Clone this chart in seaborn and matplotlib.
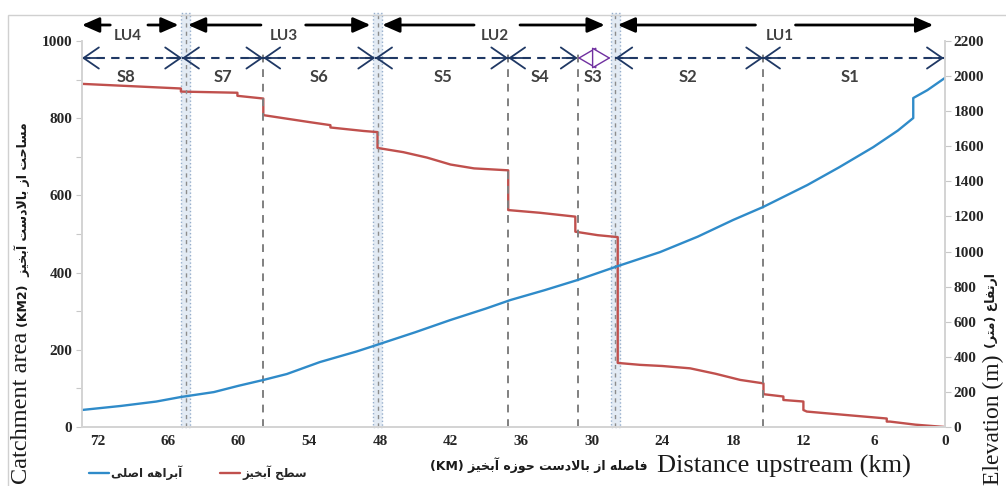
import matplotlib
matplotlib.use("Agg")
import matplotlib.pyplot as plt
import matplotlib.transforms as mtrans
from matplotlib.patches import Rectangle
import seaborn as sns

# main channel elevation (m) against distance upstream (km)
blue_km = [73.3, 70, 67, 64.9, 62.1, 60, 57.9, 55.9, 53.1, 50, 48.8, 45, 42, 39, 36.9,
           34, 31.2, 27.8, 24.2, 21, 18, 15.45, 11.7, 9, 6.1, 4, 2.7, 2.7, 1.5, 0]
blue_elev = [97, 120, 145, 171, 199, 235, 268, 302, 370, 430, 456, 540, 610, 675, 724,
             780, 838, 917, 997, 1085, 1180, 1254, 1379, 1480, 1595, 1690, 1761, 1875, 1920, 1990]

# watershed area (km2) against distance upstream (km)
red_km = [0, 2.5, 4.67, 4.95, 4.95, 8, 11.74, 12.03, 12.03, 13.73, 13.73, 15.42, 15.42, 17.4,
          19.5, 21.65, 24, 25.9, 27.8, 27.8, 29.5, 31.4, 31.4, 34.4, 37.1, 37.1, 40, 42, 44,
          46, 48.2, 48.2, 49.4, 52.2, 52.2, 54, 57.9, 57.9, 60.1, 60.1, 64.9, 64.9, 73.3]
red_area = [0, 6, 14, 14, 22, 30, 40, 44, 66, 70, 79, 85, 113, 122,
            138, 152, 158, 161, 166, 492, 497, 506, 545, 555, 562, 665, 670, 680, 698,
            712, 723, 764, 767, 776, 782, 790, 808, 851, 858, 866, 869, 877, 889]

x_ticks = [72, 66, 60, 54, 48, 42, 36, 30, 24, 18, 12, 6, 0]
area_ticks = [0, 200, 400, 600, 800, 1000]
elev_ticks = [0, 200, 400, 600, 800, 1000, 1200, 1400, 1600, 1800, 2000, 2200]

section_breaks = [57.9, 37.1, 31.2, 15.45]
unit_bands = [(64.1, 64.9), (47.8, 48.6), (27.6, 28.4)]

lu_names = ["LU4", "LU3", "LU2", "LU1"]
lu_spans = [(73.3, 65.1), (64.3, 48.8), (47.8, 28.9), (27.8, 1.0)]
lu_gaps = [(70.9, 67.7), (58.1, 54.3), (40.0, 36.1), (16.1, 12.7)]
lu_text_x = [69.4, 56.2, 38.2, 14.0]

s_names = ["S8", "S7", "S6", "S5", "S4", "S3", "S2", "S1"]
s_spans = [(73.3, 64.8), (64.8, 57.9), (57.9, 48.4), (48.4, 37.1), (37.1, 31.2),
           (31.2, 28.4), (28.0, 15.45), (15.45, 0.1)]
s_text_x = [69.6, 61.3, 53.2, 42.6, 34.4, 29.9, 21.8, 8.1]

# --- minimal Persian shaping (presentation forms, visual order) ---
FORMS = {
    "ا": ("\uFE8D", "\uFE8E"), "آ": ("\uFE81", "\uFE82"),
    "ب": ("\uFE8F", "\uFE90", "\uFE91", "\uFE92"), "ت": ("\uFE95", "\uFE96", "\uFE97", "\uFE98"),
    "ح": ("\uFEA1", "\uFEA2", "\uFEA3", "\uFEA4"), "خ": ("\uFEA5", "\uFEA6", "\uFEA7", "\uFEA8"),
    "د": ("\uFEA9", "\uFEAA"), "ر": ("\uFEAD", "\uFEAE"), "ز": ("\uFEAF", "\uFEB0"),
    "س": ("\uFEB1", "\uFEB2", "\uFEB3", "\uFEB4"), "ص": ("\uFEB9", "\uFEBA", "\uFEBB", "\uFEBC"),
    "ط": ("\uFEC1", "\uFEC2", "\uFEC3", "\uFEC4"), "ع": ("\uFEC9", "\uFECA", "\uFECB", "\uFECC"),
    "ف": ("\uFED1", "\uFED2", "\uFED3", "\uFED4"), "ل": ("\uFEDD", "\uFEDE", "\uFEDF", "\uFEE0"),
    "م": ("\uFEE1", "\uFEE2", "\uFEE3", "\uFEE4"), "ه": ("\uFEE9", "\uFEEA", "\uFEEB", "\uFEEC"),
    "و": ("\uFEED", "\uFEEE"), "ی": ("\uFEEF", "\uFEF0", "\uFEF3", "\uFEF4"),
}
LAM_ALEF = {"ا": ("\uFEFB", "\uFEFC"), "آ": ("\uFEF5", "\uFEF6")}


def fa(text):
    out = []
    i = 0
    while i < len(text):
        c = text[i]
        if c not in FORMS:
            out.append(c)
            i += 1
            continue
        prev = text[i - 1] if i > 0 else ""
        link_prev = prev in FORMS and len(FORMS[prev]) == 4
        if c == "ل" and i + 1 < len(text) and text[i + 1] in LAM_ALEF:
            out.append(LAM_ALEF[text[i + 1]][1 if link_prev else 0])
            i += 2
            continue
        nxt = text[i + 1] if i + 1 < len(text) else ""
        f = FORMS[c]
        link_next = len(f) == 4 and nxt in FORMS
        if link_prev and link_next:
            out.append(f[3])
        elif link_prev:
            out.append(f[1])
        elif link_next:
            out.append(f[2])
        else:
            out.append(f[0])
        i += 1
    return "".join(reversed(out)).translate(str.maketrans("()", ")("))


sns.set_theme(style="white")
plt.rcParams["font.family"] = ["Liberation Serif", "DejaVu Sans"]
plt.rcParams["font.weight"] = "bold"
FA_FONT = ["DejaVu Sans"]

fig, ax = plt.subplots(figsize=(10.06, 4.86), dpi=100)
fig.subplots_adjust(left=0.0815, right=0.9394, bottom=0.1214, top=0.9156)
ax2 = ax.twinx()

RED = "#c0504d"
BLUE = "#2f8bc9"
sns.lineplot(x=red_km, y=red_area, ax=ax, sort=False, estimator=None, color=RED, linewidth=1.7)
sns.lineplot(x=blue_km, y=blue_elev, ax=ax2, sort=False, estimator=None, color=BLUE, linewidth=1.7)
red_line = ax.get_lines()[0]
blue_line = ax2.get_lines()[0]

ax.set_xlim(73.3, 0)
ax.set_ylim(0, 1000)
ax2.set_ylim(0, 2200)
ax.set_xticks(x_ticks)
ax.set_yticks(area_ticks)
ax.set_yticks(range(0, 1001, 100), minor=True)
ax2.set_yticks(elev_ticks)
ax.set_xlabel("")
ax.set_ylabel("")
ax2.set_ylabel("")

tick_kw = dict(labelsize=11, labelcolor="#262626", color="#c8c8c8", direction="out")
ax.tick_params(axis="y", which="both", length=4, width=0.8, pad=3, left=True, **tick_kw)
ax.tick_params(axis="x", length=0, pad=6, **tick_kw)
ax2.tick_params(axis="y", length=4, width=0.8, pad=2, right=True, **tick_kw)
for a in (ax, ax2):
    a.spines["top"].set_visible(False)
    for s in ("left", "right", "bottom"):
        a.spines[s].set_color("#d4d4d4")
    a.grid(False)

# section breaks and land-unit boundary bands
for x in section_breaks:
    ax.axvline(x, ymin=0, ymax=0.975, color="#808080", linestyle=(0, (4, 3.5)),
               linewidth=1.4, clip_on=False)
for x0, x1 in unit_bands:
    ax.axvspan(x0, x1, ymin=0, ymax=1.0725, facecolor="#dce6f2", alpha=0.8,
               edgecolor="#7f9cc0", linestyle=":", linewidth=1.0, clip_on=False)
    ax.axvline((x0 + x1) / 2, ymin=0, ymax=1.07, color="#8c8c8c", linestyle=(0, (3, 3)),
               linewidth=1.0, clip_on=False)

trans = mtrans.blended_transform_factory(ax.transData, ax.transAxes)

# LU arrows
LU_Y = 1.0415
for name, (x0, x1), (g0, g1), tx in zip(lu_names, lu_spans, lu_gaps, lu_text_x):
    for start, end in ((g0, x0), (g1, x1)):
        ax.annotate("", xy=(end, LU_Y), xytext=(start, LU_Y), xycoords=trans, textcoords=trans,
                    annotation_clip=False,
                    arrowprops=dict(arrowstyle="-|>,head_length=0.8,head_width=0.35",
                                    color="black", lw=2.0, mutation_scale=13,
                                    shrinkA=0, shrinkB=0))
    ax.text(tx, 1.012, name, transform=trans, ha="center", va="center", fontsize=11,
            fontweight="bold", color="#404040", family=["Lato", "DejaVu Sans"], clip_on=False)

# S segments
S_Y = 0.956
NAVY = "#1f3864"
for name, (x0, x1), tx in zip(s_names, s_spans, s_text_x):
    if name == "S3":
        ax.annotate("", xy=(x1, S_Y), xytext=(x0, S_Y), xycoords=trans, textcoords=trans,
                    annotation_clip=False,
                    arrowprops=dict(arrowstyle="<|-|>,head_length=0.6,head_width=0.35",
                                    facecolor="white", edgecolor="#7030a0", lw=1.0,
                                    mutation_scale=20, shrinkA=0, shrinkB=0))
    else:
        ax.plot([x0, x1], [S_Y, S_Y], transform=trans, color=NAVY, linestyle=(0, (4, 3)),
                linewidth=1.5, clip_on=False)
        step = 1.3 if x0 > x1 else -1.3
        for end, back in ((x0, x0 - step), (x1, x1 + step)):
            ax.annotate("", xy=(end, S_Y), xytext=(back, S_Y), xycoords=trans, textcoords=trans,
                        annotation_clip=False,
                        arrowprops=dict(arrowstyle="->,head_length=0.55,head_width=0.38",
                                        color=NAVY, lw=1.3, mutation_scale=20,
                                        shrinkA=0, shrinkB=0))
    ax.text(tx, 0.907, name, transform=trans, ha="center", va="center", fontsize=12,
            fontweight="bold", color="#404040", family=["Lato", "DejaVu Sans"], clip_on=False)

# axis titles
fig.text(22 / 1006, 1 - 484 / 486, "Catchment area", rotation=90, ha="center", va="bottom",
         fontsize=17.5, fontweight="normal", color="#1a1a1a")
fig.text(22 / 1006, 1 - 327 / 486, "(KM2)  " + fa("مساحت از بالادست آبخیز"), rotation=90,
         ha="center", va="bottom", fontsize=9, fontweight="bold", family=FA_FONT, color="#1a1a1a")
elev_title = fig.text(993 / 1006, 1 - 485 / 486, "Elevation (m)", rotation=90, ha="center",
                      va="bottom", fontsize=17, fontweight="normal", color="#1a1a1a")
fig.canvas.draw()
elev_top = elev_title.get_window_extent().y1 / fig.bbox.height
fig.text(991 / 1006, elev_top + 6 / 486, fa("ارتفاع (متر)"), rotation=90, ha="center",
         va="bottom", fontsize=9, fontweight="bold", family=FA_FONT, color="#1a1a1a")
fig.text(648 / 1006, 1 - 465 / 486, "(KM) " + fa("فاصله از بالادست حوزه آبخیز"), ha="right",
         va="center", fontsize=9, fontweight="bold", family=FA_FONT, color="#1a1a1a")
fig.text(657 / 1006, 1 - 466 / 486, "Distance upstream (km)", ha="left", va="center",
         fontsize=19, fontweight="normal", color="#1a1a1a")

fig.legend([blue_line, red_line], [fa("آبراهه اصلی"), fa("سطح آبخیز")],
           loc="center left", bbox_to_anchor=(78 / 1006, 1 - 473 / 486), ncol=2,
           frameon=False, handlelength=1.7, columnspacing=3.2, handletextpad=0.2,
           prop=dict(family=FA_FONT, weight="bold", size=8.5))

# chart area border
fig.add_artist(Rectangle((8 / 1006, -0.05), 1.0, 1.05 - 15 / 486, transform=fig.transFigure,
                         fill=False, edgecolor="#d0d0d0", linewidth=1.0))

fig.savefig("out.png", dpi=100)
